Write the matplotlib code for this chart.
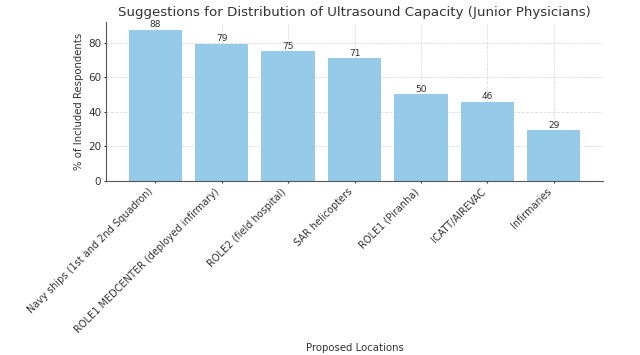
import matplotlib
matplotlib.use("Agg")
import matplotlib.pyplot as plt

categories = ["Navy ships (1st and 2nd Squadron)", "ROLE1 MEDCENTER (deployed infirmary)",
              "ROLE2 (field hospital)", "SAR helicopters", "ROLE1 (Piranha)",
              "ICATT/AIREVAC", "Infirmaries"]
values = [87.5, 79.2, 75.0, 70.8, 50.0, 45.8, 29.2]
yticks = [0, 20, 40, 60, 80]

fig = plt.figure(figsize=(6.4, 3.55), dpi=100)
ax = fig.add_axes([106 / 640, 1 - 181 / 355, 497 / 640, 159 / 355])
bars = ax.bar(categories, values, color="#95CBE8", width=0.8, zorder=2)
for b, v in zip(bars, values):
    ax.text(b.get_x() + b.get_width() / 2, v + 0.3, f"{v:.0f}", ha="center", va="bottom",
            fontsize=6.5, color="#333333")
ax.set_yticks(yticks)
ax.grid(True, linestyle="--", color="#dddddd", linewidth=0.6, zorder=0)
ax.set_axisbelow(True)
for s in ["top", "right"]:
    ax.spines[s].set_visible(False)
for s in ["left", "bottom"]:
    ax.spines[s].set_color("#555555")
ax.tick_params(axis="y", labelsize=7.5, colors="#333333", length=1.5, pad=2)
ax.tick_params(axis="x", labelsize=7.0, colors="#333333", length=1.5, pad=2.5)
plt.setp(ax.get_xticklabels(), rotation=45, ha="right")
ax.set_ylabel("% of Included Respondents", fontsize=7.3, color="#333333", labelpad=3)
ax.set_xlabel("Proposed Locations", fontsize=7.3, color="#333333")
ax.xaxis.set_label_coords(0.5, -162 / 159, transform=ax.transAxes)
ax.set_title("Suggestions for Distribution of Ultrasound Capacity (Junior Physicians)",
             fontsize=9.6, color="#333333", pad=4)
fig.savefig("out.png", dpi=100)
